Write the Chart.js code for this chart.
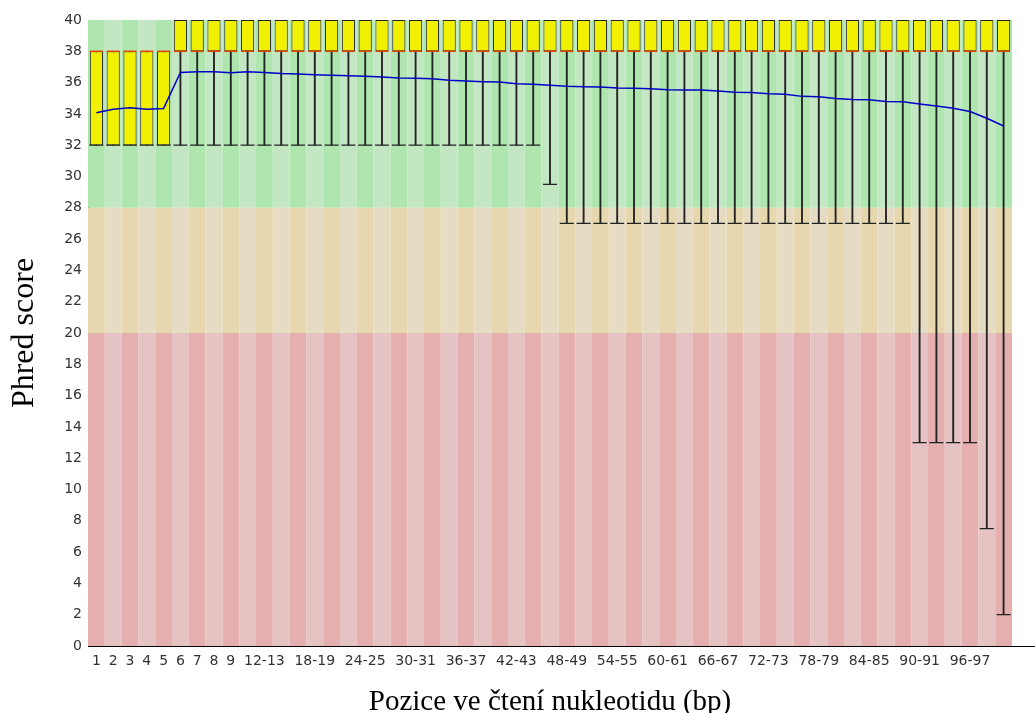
<!DOCTYPE html>
<html>
<head>
<meta charset="utf-8">
<script src="https://cdn.jsdelivr.net/npm/chart.js@4/dist/chart.umd.min.js"></script>
<style>
  html, body { margin: 0; padding: 0; background: #ffffff; }
  #wrap { width: 1035px; height: 713px; }
</style>
</head>
<body>
<div id="wrap"><canvas id="c" width="1035" height="713"></canvas></div>
<script>
const categories = ["1","2","3","4","5","6","7","8","9",
  "10-11","12-13","14-15","16-17","18-19","20-21","22-23","24-25","26-27","28-29",
  "30-31","32-33","34-35","36-37","38-39","40-41","42-43","44-45","46-47","48-49",
  "50-51","52-53","54-55","56-57","58-59","60-61","62-63","64-65","66-67","68-69",
  "70-71","72-73","74-75","76-77","78-79","80-81","82-83","84-85","86-87","88-89",
  "90-91","92-93","94-95","96-97","98-99","100-101"];

const tickLabels = ["1","2","3","4","5","6","7","8","9","12-13","18-19","24-25","30-31",
  "36-37","42-43","48-49","54-55","60-61","66-67","72-73","78-79","84-85","90-91","96-97"];

const yTicks = [0,2,4,6,8,10,12,14,16,18,20,22,24,26,28,30,32,34,36,38,40];

const lowerQuartile = [32,32,32,32,32,
  38,38,38,38,38,38,38,38,38,38,38,38,38,38,38,38,38,38,38,38,38,38,38,38,38,
  38,38,38,38,38,38,38,38,38,38,38,38,38,38,38,38,38,38,38,38,38,38,38,38,38];

const upperQuartile = [38,38,38,38,38,
  40,40,40,40,40,40,40,40,40,40,40,40,40,40,40,40,40,40,40,40,40,40,40,40,40,
  40,40,40,40,40,40,40,40,40,40,40,40,40,40,40,40,40,40,40,40,40,40,40,40,40];

const medians = [38,38,38,38,38,38,38,38,38,38,38,38,38,38,38,38,38,38,38,38,
  38,38,38,38,38,38,38,38,38,38,38,38,38,38,38,38,38,38,38,38,38,38,38,38,38,
  38,38,38,38,38,38,38,38,38,38];

const whiskerLow = [32,32,32,32,32,
  32,32,32,32,32,32,32,32,32,32,32,32,32,32,32,32,32,32,32,32,32,32,
  29.5,
  27,27,27,27,27,27,27,27,27,27,27,27,27,27,27,27,27,27,27,27,27,
  13,13,13,13,7.5,2];

const whiskerHigh = [38,38,38,38,38,
  40,40,40,40,40,40,40,40,40,40,40,40,40,40,40,40,40,40,40,40,40,40,40,40,40,
  40,40,40,40,40,40,40,40,40,40,40,40,40,40,40,40,40,40,40,40,40,40,40,40,40];

const means = [34.07,34.3,34.4,34.3,34.35,
  36.65,36.7,36.7,36.63,36.7,36.65,36.58,36.55,36.5,36.47,36.43,36.4,36.35,36.3,36.28,
  36.25,36.15,36.1,36.06,36.04,35.92,35.9,35.83,35.76,35.74,35.72,35.66,35.64,35.6,
  35.54,35.53,35.52,35.46,35.38,35.37,35.28,35.26,35.12,35.1,34.98,34.92,34.9,34.8,
  34.77,34.63,34.5,34.36,34.15,33.72,33.23];

const zoneGoodFrom = 28;
const zoneWarnFrom = 20;

const bandPlugin = {
  id: 'bands',
  beforeDatasetsDraw(chart) {
    const { ctx, chartArea, scales } = chart;
    const x = scales.x, y = scales.y;
    const step = x.getPixelForValue(1) - x.getPixelForValue(0);
    const zones = [
      { from: zoneGoodFrom, to: 40, c: ['rgb(175,230,175)', 'rgb(195,230,195)'] },
      { from: zoneWarnFrom, to: zoneGoodFrom, c: ['rgb(230,215,175)', 'rgb(230,220,195)'] },
      { from: 0, to: zoneWarnFrom, c: ['rgb(230,175,175)', 'rgb(230,195,195)'] }
    ];
    ctx.save();
    for (let i = 0; i < categories.length; i++) {
      const cx = x.getPixelForValue(i);
      const x0 = cx - step / 2;
      for (const z of zones) {
        const yt = y.getPixelForValue(z.to);
        const yb = y.getPixelForValue(z.from);
        ctx.fillStyle = z.c[i % 2];
        ctx.fillRect(x0, yt, step, yb - yt);
      }
    }
    ctx.restore();
  },
  afterDraw(chart) {
    const { ctx, chartArea } = chart;
    ctx.save();
    ctx.strokeStyle = '#000';
    ctx.lineWidth = 1;
    ctx.beginPath();
    ctx.moveTo(chartArea.right - 1, Math.round(chartArea.bottom) + 0.5);
    ctx.lineTo(chart.width, Math.round(chartArea.bottom) + 0.5);
    ctx.stroke();
    ctx.restore();
  }
};

new Chart(document.getElementById('c'), {
  type: 'bar',
  data: {
    labels: categories,
    datasets: [
      {
        type: 'line',
        label: 'Mean',
        data: means,
        borderColor: 'rgb(0,0,200)',
        borderWidth: 1.5,
        pointRadius: 0,
        tension: 0,
        fill: false,
        order: 0
      },
      {
        type: 'line',
        label: 'Median',
        data: medians,
        showLine: false,
        pointStyle: 'line',
        pointRadius: 6.5,
        borderColor: 'rgb(225,70,0)',
        borderWidth: 1.5,
        order: 1
      },
      {
        type: 'bar',
        label: 'Box',
        data: lowerQuartile.map((v, i) => [v, upperQuartile[i]]),
        backgroundColor: 'rgb(240,240,0)',
        borderColor: '#222',
        borderWidth: 1,
        borderSkipped: false,
        barPercentage: 0.78,
        categoryPercentage: 1,
        grouped: false,
        order: 2
      },
      {
        type: 'line',
        label: 'Caps',
        data: whiskerLow,
        showLine: false,
        pointStyle: 'line',
        pointRadius: 7,
        borderColor: '#222',
        borderWidth: 1.2,
        order: 3
      },
      {
        type: 'bar',
        label: 'Whisker',
        data: whiskerLow.map((v, i) => [v, whiskerHigh[i]]),
        backgroundColor: '#222',
        borderWidth: 0,
        barThickness: 1.2,
        grouped: false,
        order: 4
      }
    ]
  },
  plugins: [bandPlugin],
  options: {
    responsive: false,
    animation: false,
    events: [],
    layout: { padding: { top: 20, right: 23, left: 0, bottom: 0 } },
    plugins: { legend: { display: false }, tooltip: { enabled: false } },
    scales: {
      x: {
        type: 'category',
        offset: true,
        grid: { display: false, drawTicks: false },
        border: { display: true, color: '#000', width: 1 },
        ticks: {
          autoSkip: false,
          maxRotation: 0,
          minRotation: 0,
          padding: 7,
          color: '#333',
          font: { family: 'DejaVu Sans', size: 14 },
          callback: function (value) {
            const lab = categories[value];
            return tickLabels.includes(lab) ? lab : '';
          }
        },
        title: {
          display: true,
          text: 'Pozice ve čtení nukleotidu (bp)',
          color: '#000',
          font: { family: 'Liberation Serif', size: 29, lineHeight: 0.76 },
          padding: 0
        },
        afterFit: s => { s.height = 67; }
      },
      y: {
        type: 'linear',
        min: 0,
        max: 40,
        afterBuildTicks: s => { s.ticks = yTicks.map(v => ({ value: v })); },
        grid: { display: false, drawTicks: false },
        border: { display: true, color: '#000', width: 1 },
        ticks: {
          padding: 6,
          color: '#333',
          font: { family: 'DejaVu Sans', size: 14 }
        },
        title: {
          display: true,
          text: 'Phred score',
          color: '#000',
          font: { family: 'Liberation Serif', size: 32, lineHeight: 1.2 },
          padding: { top: 5, bottom: 0 }
        },
        afterFit: s => { s.width = 88; }
      }
    }
  }
});
</script>
</body>
</html>
